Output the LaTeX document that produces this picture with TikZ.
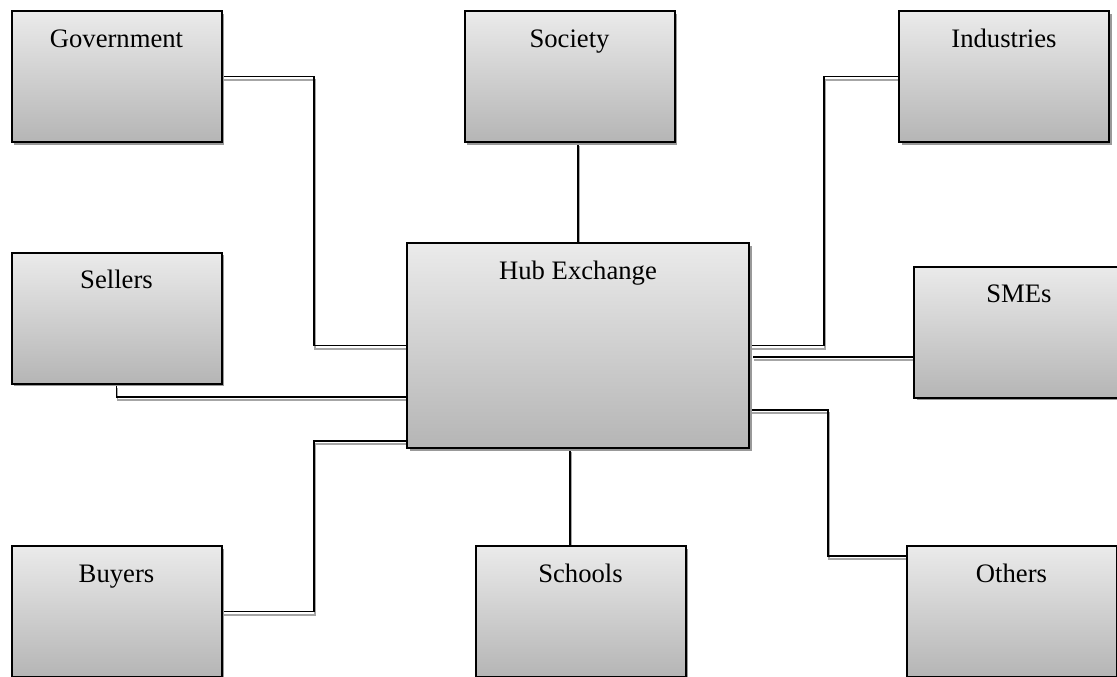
\documentclass[tikz,border=0pt]{standalone}
\usepackage{fontspec}
\setmainfont{Liberation Serif}
\usepackage{tikz}
\usetikzlibrary{positioning,shadows,calc,backgrounds}

\begin{document}
\begin{tikzpicture}[
    x=0.75pt, y=-0.75pt,
    party/.style={rectangle, draw, line width=1.5pt, top color=black!8, bottom color=black!29,
        drop shadow={shadow xshift=2pt, shadow yshift=-2pt, fill=black!40, opacity=1},
        minimum width=157.5pt, inner xsep=0pt, inner ysep=0pt,
        text height=27pt, text depth=71.25pt, font=\fontsize{20}{24}\selectfont},
    hub/.style={party, minimum width=256.5pt, text depth=126.75pt},
    link/.style={line width=1.4pt, preaction={draw=black!35, line width=1.4pt,
        transform canvas={shift={(0.75pt,-2.5pt)}}}}
]
\useasboundingbox (0,0) rectangle (1117,676);

% Top row
\node[party] (gov) at (116.5,76.5) {Government};
\node[party] (soc) at (569.5,76.5) {Society};
\node[party] (ind) at (1004,76.5) {Industries};

% Middle row
\node[party] (sell) at (116.5,318) {Sellers};
\node[hub] (hubx) at (578,345.5) {Hub Exchange};
\node[party] (sme) at (1019,332) {SMEs};

% Bottom row
\node[party] (buy) at (116.5,611.5) {Buyers};
\node[party] (sch) at (580.5,611.5) {Schools};
\node[party] (oth) at (1011.5,611.5) {Others};

% Connectors
\begin{scope}[on background layer]
\draw[link] (gov.east) -| ($(gov.east)!.5!(hubx.west)$) |- (hubx.west);
\draw[link] (hubx.north) -- (hubx.north |- soc.south);
\draw[link] (ind.west) -| ($(ind.west)!.5!(hubx.east)$) |- (hubx.east);
\draw[link] (sell.south) |- ($(hubx.west)+(0,51.5)$);
\draw[link] ($(hubx.east)+(3,11.5)$) -- ($(sme.west)+(0,25)$);
\draw[link] (buy.east) -| ($(buy.east)!.5!(hubx.west)$) |- ($(hubx.west)+(0,95.5)$);
\draw[link] ($(hubx.south)+(-8,0)$) -- ($(sch.north)+(-10.5,0)$);
\draw[link] ($(hubx.east)+(0,64.5)$) -| ($(hubx.east)!.5!(oth.west)$) |- ($(oth.north west)+(0,11)$);
\end{scope}

\end{tikzpicture}
\end{document}
